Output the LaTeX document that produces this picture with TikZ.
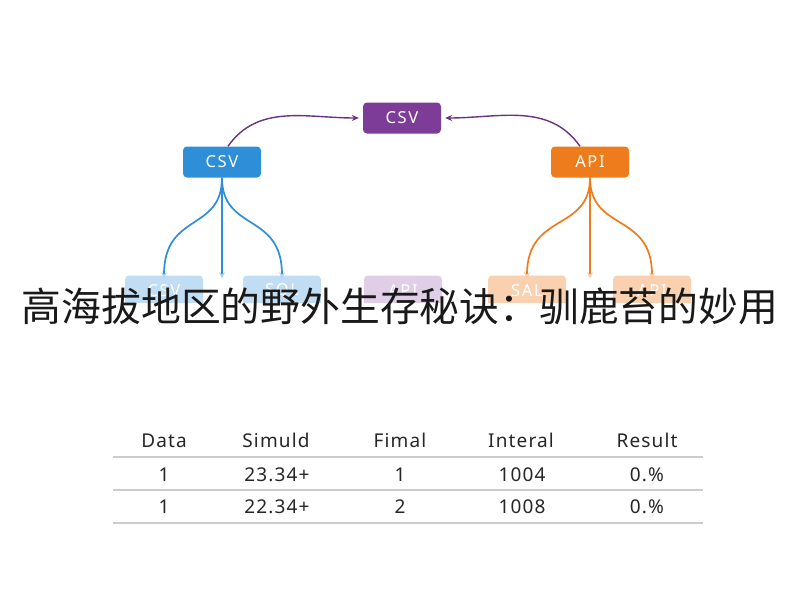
\documentclass[tikz,border=0pt]{standalone}
\usepackage{fontspec}
\setsansfont{Noto Sans}
\newfontfamily\cjk{Noto Sans CJK SC}
\usetikzlibrary{arrows.meta}
\definecolor{pur}{HTML}{7D3C98}
\definecolor{blu}{HTML}{2E8FD8}
\definecolor{ora}{HTML}{EE7B1C}
\tikzset{box/.style={rounded corners=4pt,minimum width=78pt,minimum height=31pt,text=white,font=\sffamily\addfontfeatures{LetterSpace=10}\fontsize{16.5}{16.5}\selectfont},
fan/.style={line width=1.7pt},
cell/.style={anchor=base,font=\sffamily\addfontfeatures{LetterSpace=6}\fontsize{19}{19}\selectfont,text=black!85}}
\begin{document}
\begin{tikzpicture}[x=1pt,y=-1pt]
\useasboundingbox[fill=white] (0,0) rectangle (800,600);
\node[box,fill=pur] (top) at (402,118) {CSV};
\node[box,fill=blu] (csv) at (222,162) {CSV};
\node[box,fill=ora] (api) at (590,162) {API};
\draw[pur!85!black,line width=1.4pt,-{Stealth[length=7pt,width=6pt]}] ([xshift=6pt]csv.north) to[out=55,in=180] ([xshift=-4pt]top.west);
\draw[pur!85!black,line width=1.4pt,-{Stealth[length=7pt,width=6pt]}] ([xshift=-10pt]api.north) to[out=125,in=0] ([xshift=4pt]top.east);
% faded boxes below
\node[box,fill=blu!30] (b1) at (164,291) {CSV};
\node[box,fill=blu!30] (b2) at (282,291) {SQL};
\node[box,fill=pur!25] (b3) at (403,291) {API};
\node[box,fill=ora!35] (b4) at (527,291) {SAL};
\node[box,fill=ora!35] (b5) at (652,291) {API};
\fill[white] (0,303) rectangle (800,345);
\draw[fan,blu,-{Stealth[length=6pt,width=6pt,color=blu!40]}] (csv.south) .. controls (222,232) and (164,212) .. ([yshift=-3pt]b1.north);
\draw[fan,blu,-{Stealth[length=6pt,width=6pt,color=blu!40]}] (csv.south) -- ([yshift=-3pt]b1.north -| csv.south);
\draw[fan,blu,-{Stealth[length=6pt,width=6pt,color=blu!40]}] (csv.south) .. controls (222,232) and (282,212) .. ([yshift=-3pt]b2.north);
\draw[fan,ora,-{Stealth[length=6pt,width=6pt,color=ora!40]}] (api.south) .. controls (590,232) and (527,212) .. ([yshift=-3pt]b4.north);
\draw[fan,ora,-{Stealth[length=6pt,width=6pt,color=ora!40]}] (api.south) -- ([yshift=-3pt]b4.north -| api.south);
\draw[fan,ora,-{Stealth[length=6pt,width=6pt,color=ora!40]}] (api.south) .. controls (590,232) and (652,212) .. ([yshift=-3pt]b5.north);
% title
\node[text=black!90,font=\cjk\fontsize{39.8}{42}\selectfont] (title) at (400,306) {高海拔地区的野外生存秘诀：驯鹿苔的妙用};
% table
\node[cell] (h1) at (164,447) {Data};
\node[cell] (h2) at (276,447) {Simuld};
\node[cell] (h3) at (400,447) {Fimal};
\node[cell] (h4) at (521,447) {Interal};
\node[cell] (h5) at (647,447) {Result};
\node[cell] at (164,481) {1};
\node[cell] at (277,481) {23.34+};
\node[cell] at (400,481) {1};
\node[cell] at (522,481) {1004};
\node[cell] at (647,481) {0.\%};
\node[cell] at (164,513) {1};
\node[cell] at (277,513) {22.34+};
\node[cell] at (400,513) {2};
\node[cell] at (522,513) {1008};
\node[cell] at (647,513) {0.\%};
\foreach \y in {457,490,523}
  \draw[black!20,line width=1.2pt] (113,\y) -- (703,\y);
\end{tikzpicture}
\end{document}
